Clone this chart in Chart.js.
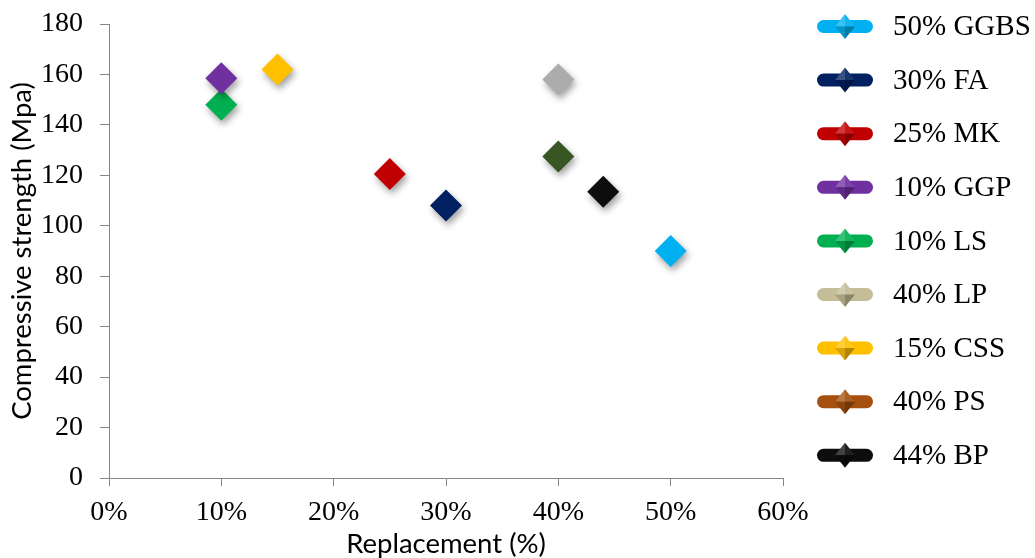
<!DOCTYPE html>
<html>
<head>
<meta charset="utf-8">
<script src="https://cdn.jsdelivr.net/npm/chart.js@4/dist/chart.umd.min.js"></script>
<style>
  html, body { margin: 0; padding: 0; background: #ffffff; }
  #wrap { width: 1035px; height: 558px; position: relative; }
</style>
</head>
<body>
<div id="wrap"><canvas id="c" width="1035" height="558"></canvas></div>
<script>
// ---- Data ----
const seriesNames = ['50% GGBS', '30% FA', '25% MK', '10% GGP', '10% LS', '40% LP', '15% CSS', '40% PS', '44% BP'];
const replacement = [50, 30, 25, 10, 10, 40, 15, 40, 44];          // x, %
const strength    = [90, 108, 120.5, 158.5, 148, 158, 162, 127.5, 113.5]; // y, MPa
const pointColors  = ['#00B0F0', '#002060', '#C00000', '#7030A0', '#00B050', '#AEABAB', '#FFC000', '#375623', '#0D0D0D'];
const legendColors = ['#00B0F0', '#002060', '#C00000', '#7030A0', '#00B050', '#C4BD97', '#FFC000', '#A5500E', '#0D0D0D'];
const xTicks = [0, 10, 20, 30, 40, 50, 60];
const yTicks = [0, 20, 40, 60, 80, 100, 120, 140, 160, 180];

const datasets = seriesNames.map((name, i) => ({
  label: name,
  data: [{ x: replacement[i], y: strength[i] }],
  pointStyle: 'rectRot',
  pointRadius: 16,
  pointHoverRadius: 16,
  pointBackgroundColor: pointColors[i],
  pointBorderColor: pointColors[i],
  pointBorderWidth: 0,
  backgroundColor: legendColors[i],
  borderColor: legendColors[i],
  showLine: false
}));

const shadowPlugin = {
  id: 'shadow',
  beforeDatasetsDraw(chart) {
    const ctx = chart.ctx;
    ctx.save();
    ctx.shadowColor = 'rgba(0,0,0,0.38)';
    ctx.shadowBlur = 7;
    ctx.shadowOffsetX = 2;
    ctx.shadowOffsetY = 4;
  },
  afterDatasetsDraw(chart) {
    chart.ctx.restore();
  }
};

function shade(hex, f) {
  const n = parseInt(hex.slice(1), 16);
  let r = (n >> 16) & 255, g = (n >> 8) & 255, b = n & 255;
  if (f >= 0) { r += (255 - r) * f; g += (255 - g) * f; b += (255 - b) * f; }
  else { r *= (1 + f); g *= (1 + f); b *= (1 + f); }
  return 'rgb(' + Math.round(r) + ',' + Math.round(g) + ',' + Math.round(b) + ')';
}

const legendPlugin = {
  id: 'customLegend',
  afterDraw(chart) {
    const ctx = chart.ctx;
    const x0 = 817, barW = 56, barH = 13, textX = 893;
    const y0 = 26.5, step = 53.6;
    ctx.save();
    chart.data.datasets.forEach((ds, i) => {
      const y = y0 + i * step;
      const c = ds.backgroundColor;
      // rounded bar
      ctx.fillStyle = c;
      ctx.beginPath();
      const r = barH / 2;
      ctx.moveTo(x0 + r, y - r);
      ctx.lineTo(x0 + barW - r, y - r);
      ctx.arc(x0 + barW - r, y, r, -Math.PI / 2, Math.PI / 2);
      ctx.lineTo(x0 + r, y + r);
      ctx.arc(x0 + r, y, r, Math.PI / 2, Math.PI * 1.5);
      ctx.closePath();
      ctx.fill();
      // diamond with facets
      const cx = x0 + barW / 2, hw = 10, hh = 12.5;
      const facets = [
        [[cx, y - hh], [cx - hw, y], [cx, y], shade(c, 0.22)],
        [[cx, y - hh], [cx + hw, y], [cx, y], shade(c, 0.08)],
        [[cx - hw, y], [cx, y + hh], [cx, y], shade(c, -0.15)],
        [[cx + hw, y], [cx, y + hh], [cx, y], shade(c, -0.3)]
      ];
      facets.forEach(f => {
        ctx.fillStyle = f[3];
        ctx.beginPath();
        ctx.moveTo(f[0][0], f[0][1]);
        ctx.lineTo(f[1][0], f[1][1]);
        ctx.lineTo(f[2][0], f[2][1]);
        ctx.closePath();
        ctx.fill();
      });
      // label
      ctx.fillStyle = '#000000';
      ctx.font = '29px "Liberation Serif", "Times New Roman", serif';
      ctx.textBaseline = 'middle';
      ctx.textAlign = 'left';
      ctx.fillText(ds.label, textX, y + 1);
    });
    ctx.restore();
  }
};

const axisColor = '#868686';
const tickFont = { family: '"Liberation Serif", "Times New Roman", serif', size: 28 };
const titleFont = { family: 'Lato, "Open Sans", sans-serif', size: 27.5, lineHeight: 1 };

new Chart(document.getElementById('c'), {
  type: 'scatter',
  data: { datasets },
  options: {
    responsive: false,
    animation: false,
    events: [],
    layout: { padding: { left: 0, right: 252, top: 24, bottom: 0 } },
    plugins: { legend: { display: false }, tooltip: { enabled: false } },
    scales: {
      x: {
        type: 'linear',
        min: 0, max: 60,
        afterBuildTicks(axis) { axis.ticks = xTicks.map(v => ({ value: v })); },
        afterFit(axis) { axis.height = 80; axis.paddingLeft = 0; axis.paddingRight = 0; },
        ticks: { color: '#000', font: tickFont, padding: 10, maxRotation: 0, callback: v => v + '%' },
        grid: { display: true, drawOnChartArea: false, drawTicks: true, tickLength: 8, color: axisColor, lineWidth: 1 },
        border: { display: true, color: axisColor, width: 1 },
        title: { display: true, text: 'Replacement (%)', color: '#000', font: titleFont, padding: { top: 0, bottom: 0 } }
      },
      y: {
        type: 'linear',
        min: 0, max: 180,
        afterBuildTicks(axis) { axis.ticks = yTicks.map(v => ({ value: v })); },
        afterFit(axis) { axis.width = 109; axis.paddingTop = 0; axis.paddingBottom = 0; },
        ticks: { color: '#000', font: tickFont, padding: 17 },
        grid: { display: true, drawOnChartArea: false, drawTicks: true, tickLength: 9, color: axisColor, lineWidth: 1 },
        border: { display: true, color: axisColor, width: 1 },
        title: { display: true, text: 'Compressive strength (Mpa)', color: '#000', font: titleFont, padding: { top: 8, bottom: 0 } }
      }
    }
  },
  plugins: [shadowPlugin, legendPlugin]
});
</script>
</body>
</html>
